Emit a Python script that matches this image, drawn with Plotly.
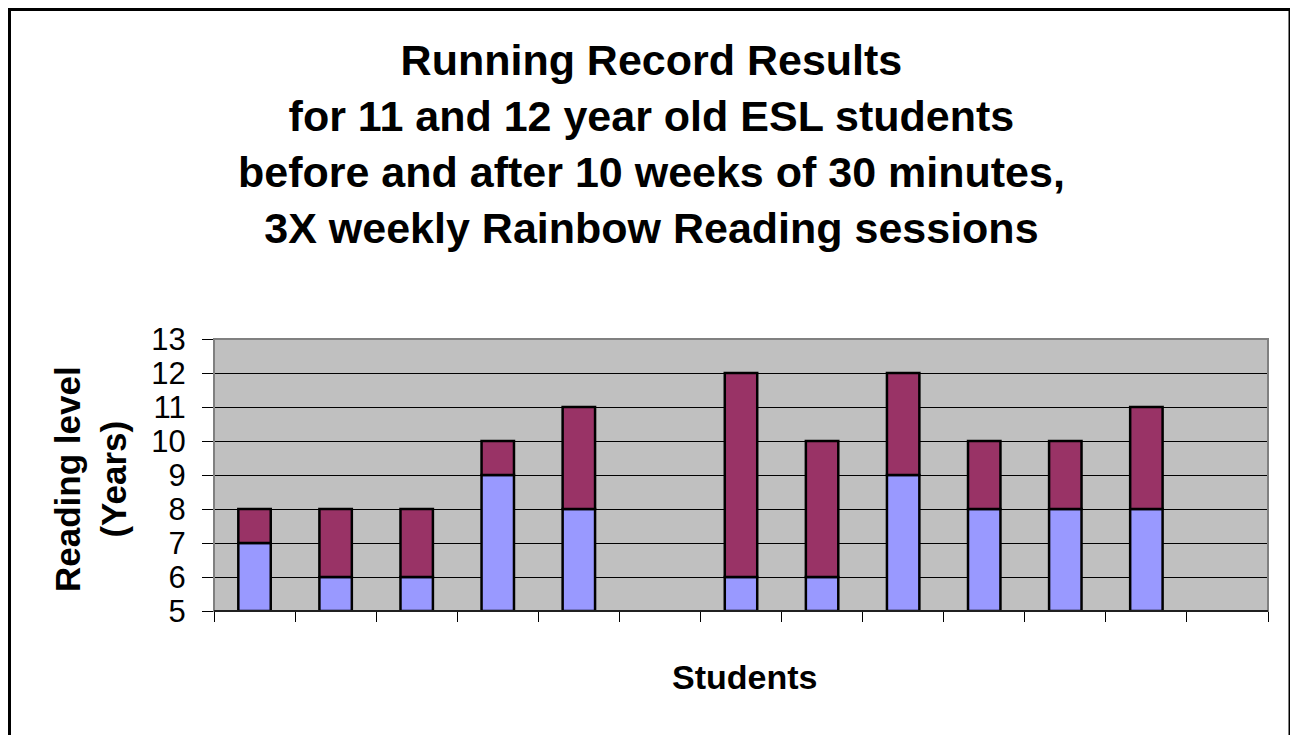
import plotly.graph_objects as go
import numpy as np

students = [str(i) for i in range(1, 14)]
before = [7, 6, 6, 9, 8, None, 6, 6, 9, 8, 8, 8, None]
after = [8, 8, 8, 10, 11, None, 12, 10, 12, 10, 10, 11, None]
y_ticks = list(range(5, 14))
y_min, y_max = 5, 13

title_lines = [
    "Running Record Results",
    "for 11 and 12 year old ESL students",
    "before and after 10 weeks of 30 minutes,",
    "3X weekly Rainbow Reading sessions",
]

b = np.array([np.nan if v is None else v for v in before], dtype=float)
a = np.array([np.nan if v is None else v for v in after], dtype=float)

FONT = "Arial, 'Liberation Sans', sans-serif"
OFF = 8  # browser body margin
W, H = 1298 - OFF, 735 - OFF
L, R, T, B = 214 - OFF, 1268 - OFF, 339 - OFF, 611 - OFF

fig = go.Figure()
fig.add_trace(go.Bar(
    x=students, y=b - y_min, base=[y_min] * len(students),
    marker=dict(color="#9999FF", line=dict(color="black", width=2.5)),
    name="Before", width=0.4,
))
fig.add_trace(go.Bar(
    x=students, y=a - b, base=b,
    marker=dict(color="#993366", line=dict(color="black", width=2.5)),
    name="After", width=0.4,
))

def px_x(p):
    return (p - OFF - L) / (R - L)

def px_y(p):
    return (B - (p - OFF)) / (B - T)

shapes = [
    # outer chart border
    dict(type="rect", xref="paper", yref="paper",
         x0=px_x(9.5), x1=px_x(1290), y0=px_y(745), y1=px_y(9.5),
         line=dict(color="black", width=3), fillcolor="rgba(0,0,0,0)"),
    # plot area border
    dict(type="rect", xref="paper", yref="paper", x0=0, x1=1, y0=0, y1=1,
         line=dict(color="#808080", width=2), fillcolor="rgba(0,0,0,0)"),
    dict(type="line", xref="paper", yref="paper", x0=0, x1=1, y0=0, y1=0,
         line=dict(color="black", width=1.5)),
]

fig.update_layout(
    width=W, height=H,
    margin=dict(l=L, r=W - R, t=T, b=H - B),
    paper_bgcolor="white", plot_bgcolor="#C0C0C0",
    barmode="overlay", showlegend=False,
    font=dict(family=FONT, color="black"),
    xaxis=dict(
        type="category", categoryorder="array", categoryarray=students,
        showticklabels=False, tickson="boundaries", ticks="outside",
        ticklen=10, tickcolor="black", tickwidth=1,
        showgrid=False, showline=False, zeroline=False,
        range=[-0.5, len(students) - 0.5],
    ),
    yaxis=dict(
        range=[y_min, y_max], tickvals=y_ticks, ticktext=[str(v) for v in y_ticks],
        ticks="outside", ticklen=11, tickcolor="black", tickwidth=1,
        tickfont=dict(size=31, family=FONT, color="black"),
        ticklabelstandoff=10,
        showgrid=True, gridcolor="black", gridwidth=1,
        showline=False, zeroline=False,
    ),
    shapes=shapes,
    annotations=[
        dict(text="<br>".join(f"<b>{t}</b>" for t in title_lines),
             xref="paper", yref="paper", x=px_x(651), y=px_y(144),
             xanchor="center", yanchor="middle", showarrow=False,
             font=dict(size=43, family=FONT, color="black")),
        dict(text="<b>Reading level<br>(Years)</b>", textangle=-90,
             xref="paper", yref="paper", x=px_x(90), y=px_y(479),
             xanchor="center", yanchor="middle", showarrow=False,
             font=dict(size=35, family=FONT, color="black")),
        dict(text="<b>Students</b>",
             xref="paper", yref="paper", x=px_x(744), y=px_y(677),
             xanchor="center", yanchor="middle", showarrow=False,
             font=dict(size=34, family=FONT, color="black")),
    ],
)

fig.write_html("out.html")
